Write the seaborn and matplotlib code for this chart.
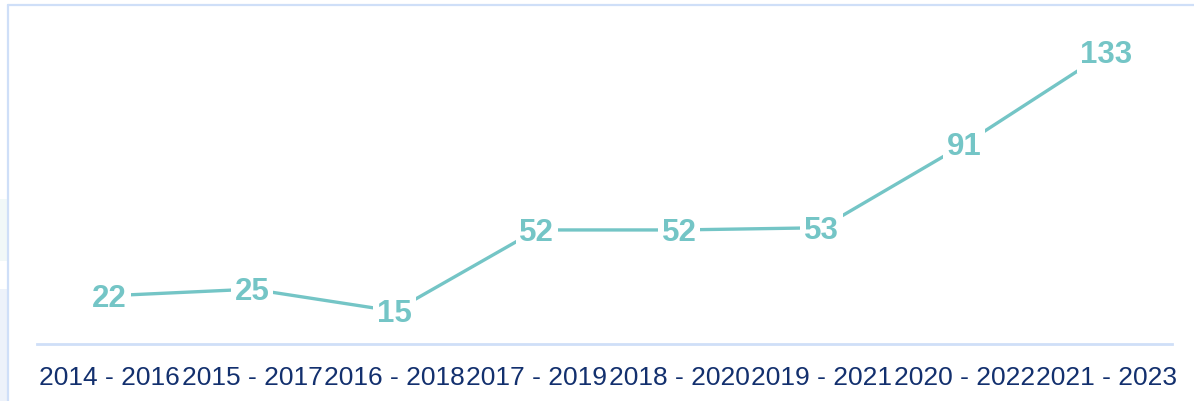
import pandas as pd
import seaborn as sns
from matplotlib import pyplot as plt
from matplotlib.patches import Rectangle
from matplotlib.lines import Line2D

# data ---------------------------------------------------------------
periods = ['2014 - 2016', '2015 - 2017', '2016 - 2018', '2017 - 2019',
           '2018 - 2020', '2019 - 2021', '2020 - 2022', '2021 - 2023']
counts = [22, 25, 15, 52, 52, 53, 91, 133]

line_color = '#74c5c6'
border_color = '#cfdff8'
label_color = '#13306e'


def main():
    df = pd.DataFrame({'period': periods, 'count': counts})

    sns.set_style('white')
    plt.rcParams['font.family'] = ['Liberation Sans', 'DejaVu Sans']

    fig = plt.figure(figsize=(11.94, 4.02), dpi=100)
    W, H = 1194, 402

    # faint background decoration at the left edge
    fig.patches.append(Rectangle((0, 1 - 262 / H), 7 / W, 62 / H, transform=fig.transFigure,
                                 facecolor='#f1f8f8', edgecolor='none', zorder=0))
    fig.patches.append(Rectangle((0, 0), 7 / W, 112 / H, transform=fig.transFigure,
                                 facecolor='#edf2fa', edgecolor='none', zorder=0))
    # card border (left + top)
    fig.lines.append(Line2D([8 / W, 8 / W], [0, 1 - 6 / H], transform=fig.transFigure,
                            color=border_color, lw=1.6))
    fig.lines.append(Line2D([8 / W, 1], [1 - 6 / H, 1 - 6 / H], transform=fig.transFigure,
                            color=border_color, lw=1.6))

    ax = fig.add_axes([37 / W, 1 - 345 / H, (1172 - 37) / W, 329 / H])
    sns.lineplot(data=df, x='period', y='count', color=line_color, linewidth=2.4,
                 sort=False, ax=ax)

    for i, v in enumerate(df['count']):
        ax.text(i, v - 0.8, str(v), ha='center', va='center', fontsize=22.5,
                fontweight='bold', color=line_color,
                bbox=dict(boxstyle='square,pad=0.12', facecolor='white', edgecolor='none'))

    ax.set_xlim(-0.51, 7.46)
    ax.set_ylim(0, 150)
    ax.set_xlabel('')
    ax.set_ylabel('')
    ax.set_yticks([])
    ax.tick_params(axis='x', length=0, pad=15, labelsize=19, labelcolor=label_color)
    for s in ['top', 'right', 'left']:
        ax.spines[s].set_visible(False)
    ax.spines['bottom'].set_color(border_color)
    ax.spines['bottom'].set_linewidth(2)
    ax.patch.set_alpha(0)

    fig.savefig('out.png', dpi=100)


if __name__ == "__main__":
    main()
